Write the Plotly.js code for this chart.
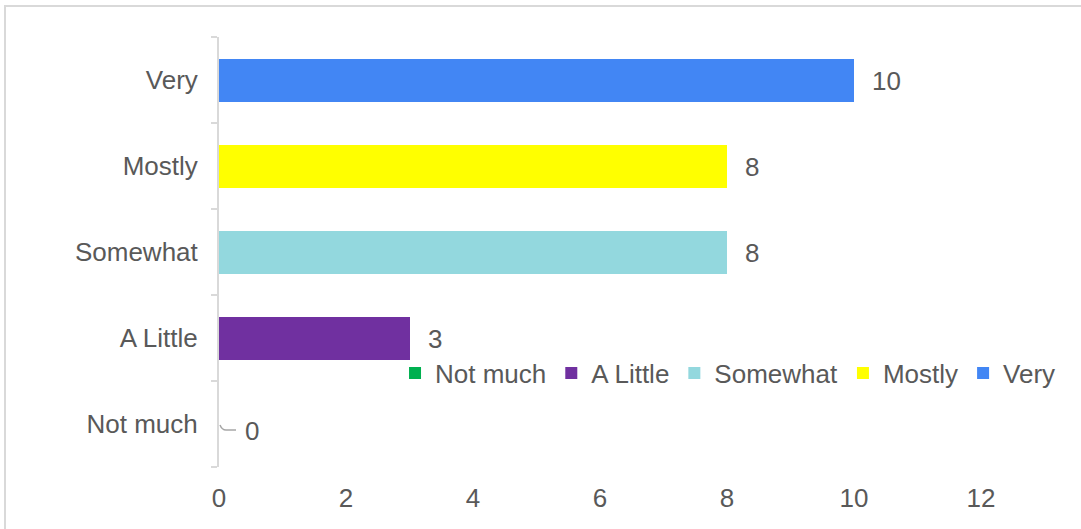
<!DOCTYPE html>
<html>
<head>
<meta charset="utf-8">
<script src="https://cdn.plot.ly/plotly-3.0.1.min.js"></script>
<style>
  html, body { margin: 0; padding: 0; background: #fff; overflow: hidden; }
  #chart { position: absolute; left: 0; top: 0; width: 1081px; height: 529px; }
  #frame { position: absolute; left: 4px; top: 5px; width: 2000px; height: 2000px;
           border-left: 2px solid #d9d9d9; border-top: 2px solid #d9d9d9;
           pointer-events: none; z-index: 5; }
</style>
</head>
<body>
<div id="chart"></div>
<div id="frame"></div>
<script>
const categories = ['Not much', 'A Little', 'Somewhat', 'Mostly', 'Very'];
const values = [0, 3, 8, 8, 10];
const colors = ['#00b050', '#7030a0', '#93d8de', '#ffff00', '#4286f4'];
const xTicks = [0, 2, 4, 6, 8, 10, 12];

const FONT = 'Liberation Sans, Arial, sans-serif';
const TXT = '#595959';
const FS = 26;

const traces = categories.map((c, i) => ({
  type: 'bar',
  orientation: 'h',
  name: c,
  x: [values[i]],
  y: [c],
  width: 0.5,
  marker: { color: colors[i], line: { width: 0 } },
  hoverinfo: 'x+y'
}));

const annotations = categories.map((c, i) => ({
  x: values[i], y: c, xref: 'x', yref: 'y',
  text: String(values[i]), showarrow: false,
  xanchor: 'left', yanchor: 'middle',
  xshift: values[i] === 0 ? 24 : 16,
  yshift: values[i] === 0 ? -7 : -1,
  font: { family: FONT, size: FS, color: TXT }
}));

const shapes = [];
categories.forEach((c, i) => {
  if (values[i] === 0) {
    shapes.push({
      type: 'path', xref: 'x', yref: 'y',
      xsizemode: 'pixel', ysizemode: 'pixel',
      xanchor: values[i], yanchor: c,
      path: 'M 1 -1 Q 3 -6 7 -6 L 17 -6',
      line: { color: '#a6a6a6', width: 1.5 }
    });
  }
});

const layout = {
  width: 1081, height: 529,
  margin: { l: 219, r: 100, t: 37, b: 62 },
  paper_bgcolor: '#ffffff', plot_bgcolor: '#ffffff',
  barmode: 'stack',
  showlegend: true,
  legend: {
    orientation: 'h', x: 0.231, xanchor: 'left', y: 0.2186, yanchor: 'middle',
    font: { family: FONT, size: FS, color: TXT },
    bgcolor: 'rgba(0,0,0,0)', traceorder: 'normal'
  },
  xaxis: {
    range: [0, 12], tickvals: xTicks, ticktext: xTicks.map(String),
    showgrid: false, zeroline: false, showline: false, ticks: '',
    tickfont: { family: FONT, size: FS, color: TXT },
    ticklabelstandoff: 13, fixedrange: true
  },
  yaxis: {
    type: 'category', categoryorder: 'array', categoryarray: categories,
    range: [-0.5, 4.5],
    showgrid: false, zeroline: false,
    showline: true, linecolor: '#d9d9d9', linewidth: 2,
    ticks: 'outside', tickson: 'boundaries', ticklen: 6, tickcolor: '#d9d9d9', tickwidth: 2,
    tickfont: { family: FONT, size: FS, color: TXT },
    ticklabelstandoff: 14, fixedrange: true
  },
  annotations: annotations,
  shapes: shapes
};

Plotly.newPlot('chart', traces, layout, { displayModeBar: false, staticPlot: true });
</script>
</body>
</html>
